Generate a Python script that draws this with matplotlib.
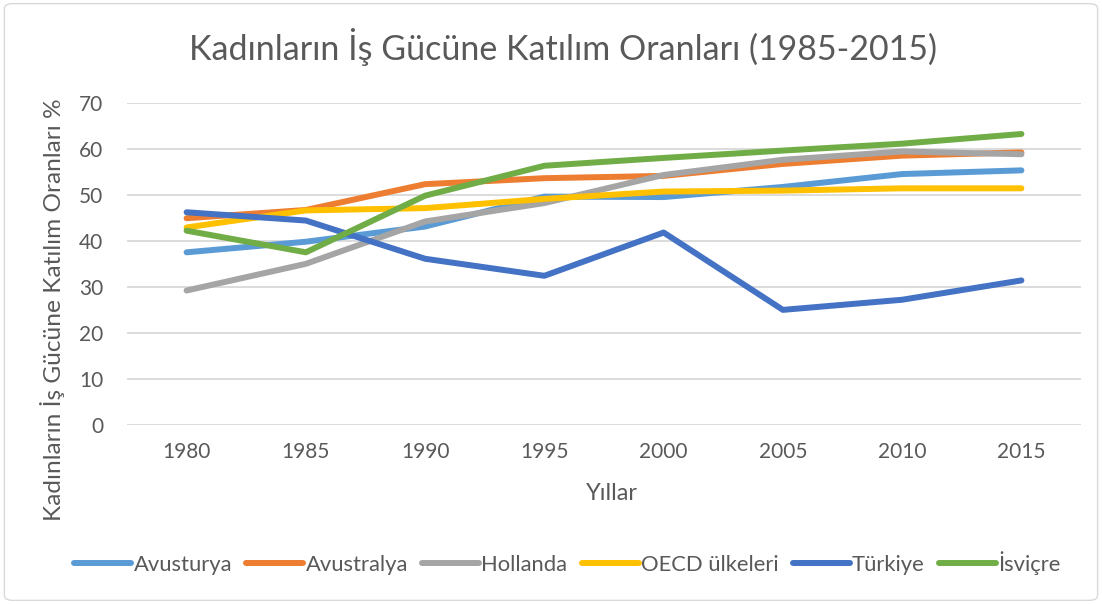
import matplotlib
matplotlib.use("Agg")
import matplotlib.pyplot as plt
from matplotlib.patches import FancyBboxPatch

plt.rcParams['font.family'] = ['Lato', 'DejaVu Sans']

years = ["1980", "1985", "1990", "1995", "2000", "2005", "2010", "2015"]
avusturya = [37.5, 39.8, 43.1, 49.6, 49.5, 51.7, 54.5, 55.3]
avustralya = [44.9, 46.7, 52.3, 53.6, 54.1, 56.7, 58.5, 59.2]
hollanda = [29.2, 35.0, 44.2, 48.2, 54.3, 57.6, 59.4, 58.8]
oecd = [42.9, 46.6, 47.1, 49.1, 50.7, 50.9, 51.4, 51.4]
turkiye = [46.2, 44.4, 36.1, 32.4, 41.8, 25.0, 27.2, 31.4]
isvicre = [42.2, 37.5, 49.8, 56.3, 58.0, 59.6, 61.1, 63.2]

series_names = ["Avusturya", "Avustralya", "Hollanda", "OECD ülkeleri", "Türkiye", "İsviçre"]
series_values = [avusturya, avustralya, hollanda, oecd, turkiye, isvicre]
colors = ["#5B9BD5", "#ED7D31", "#A5A5A5", "#FFC000", "#4472C4", "#70AD47"]

text_color = '#595959'

fig = plt.figure(figsize=(11.02, 6.04), dpi=100)
ax = fig.add_axes([0.1152, 0.2964, 0.8658, 0.5336])

x = list(range(len(years)))
for name, vals, c in zip(series_names, series_values, colors):
    ax.plot(x, vals, color=c, lw=4.3, solid_capstyle='round', solid_joinstyle='round', label=name)

ax.set_xlim(-0.5, len(years) - 0.5)
ax.set_ylim(0, 70)
ax.set_yticks(range(0, 71, 10))
ax.set_xticks(x)
ax.set_xticklabels(years)
ax.grid(axis='y', color='#D9D9D9', lw=1.3)
ax.set_axisbelow(True)
for s in ax.spines.values():
    s.set_visible(False)
ax.tick_params(axis='both', length=0, labelsize=15, colors=text_color)
ax.tick_params(axis='y', pad=17)
ax.tick_params(axis='x', pad=12)

fig.text(612 / 1102, 1 - 494 / 604, "Yıllar", ha='center', va='center', fontsize=17, color=text_color)
fig.text(53 / 1102, 1 - 310 / 604, "Kadınların İş Gücüne Katılım Oranları %", ha='center', va='center',
         rotation=90, fontsize=17.6, color=text_color)

fig.text(0.511, 0.922, "Kadınların İş Gücüne Katılım Oranları (1985-2015)", ha='center', va='center',
         fontsize=24.5, color=text_color)

fig.legend(loc='center', bbox_to_anchor=(0.515, 0.068), ncol=6, frameon=False, fontsize=15.8,
           handlelength=2.6, handletextpad=0.1, columnspacing=0.65, labelcolor=text_color)

border = FancyBboxPatch((0.004, 0.006), 0.992, 0.988, boxstyle="round,pad=0,rounding_size=0.008",
                        transform=fig.transFigure, fill=False, edgecolor='#D9D9D9', lw=1)
fig.patches.append(border)

fig.savefig("out.png", dpi=100)
